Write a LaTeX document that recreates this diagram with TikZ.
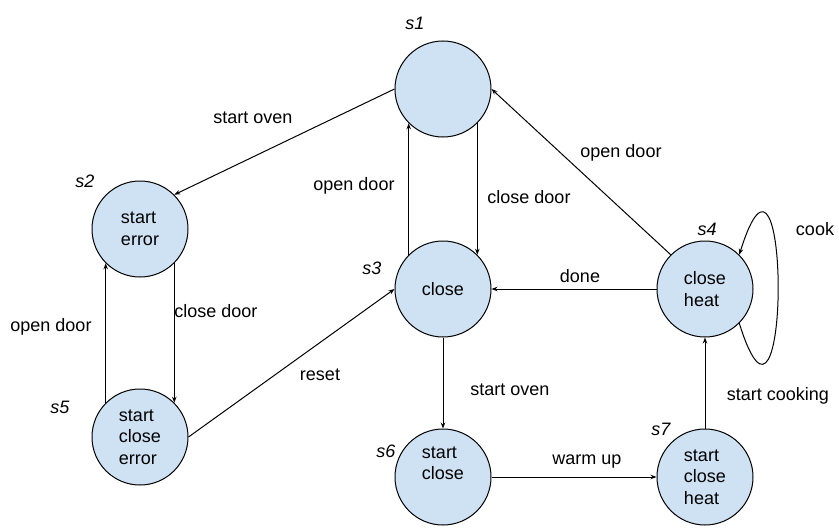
\documentclass[tikz,border=0pt]{standalone}
\usepackage{fontspec}
\setmainfont{Liberation Sans}
\usetikzlibrary{arrows.meta}
\definecolor{stfill}{HTML}{CFE2F3}
\tikzset{
  state/.style={circle,draw=black,line width=1pt,fill=stfill,minimum size=96pt,inner sep=0pt,
    align=left,font=\fontsize{18}{21.5}\selectfont},
  lbl/.style={anchor=base,inner sep=0pt,font=\fontsize{18}{21.5}\selectfont},
  sname/.style={anchor=base,inner sep=0pt,font=\fontsize{18}{21.5}\selectfont\itshape},
  conn/.style={line width=1pt,-{Stealth[length=6pt,width=4.5pt]}}
}
\begin{document}
\begin{tikzpicture}[x=1pt,y=-1pt]
\path[use as bounding box,fill=white] (0,0) rectangle (839,530);
% states
\node[state] (s1) at (443,89) {};
\node[state] (s2) at (140,229) {start\\error};
\node[state] (s3) at (443,289) {close};
\node[state] (s4) at (705,289) {close\\heat};
\node[state] (s5) at (140,437) {start\\close\\error};
\node[state] (s6) at (443,477) {start\\close\\\strut};
\node[state] (s7) at (705,477) {start\\close\\heat};
% state names
\node[sname] (n1) at (415,29) {s1};
\node[sname] (n2) at (85,187) {s2};
\node[sname] (n3) at (372,274) {s3};
\node[sname] (n4) at (707,235) {s4};
\node[sname] (n5) at (60,413) {s5};
\node[sname] (n6) at (386,457) {s6};
\node[sname] (n7) at (661,435) {s7};
% connectors
\draw[conn] (s1.180) -- (s2.45);
\draw[conn] (s3.135) -- (s1.225);
\draw[conn] (s1.315) -- (s3.45);
\draw[conn] (s4.135) -- (s1.0);
\draw[conn] (s4.180) -- (s3.0);
\draw[conn] (s2.315) -- (s5.45);
\draw[conn] (s5.135) -- (s2.225);
\draw[conn] (s5.0) -- (s3.180);
\draw[conn] (s3.270) -- (s6.90);
\draw[conn] (s6.0) -- (s7.180);
\draw[conn] (s7.90) -- (s4.270);
\draw[conn] (s4.-45) .. controls (791,489) and (791,89) .. (s4.45);
% connector labels
\node[lbl] (l1) at (253,123) {start oven};
\node[lbl] (l2) at (354,190) {open door};
\node[lbl] (l3) at (529,203) {close door};
\node[lbl] (l4) at (621,157) {open door};
\node[lbl] (l5) at (580,282) {done};
\node[lbl] (l6) at (216,317) {close door};
\node[lbl] (l7) at (51,331) {open door};
\node[lbl] (l8) at (320,380) {reset};
\node[lbl] (l9) at (510,395) {start oven};
\node[lbl] (l10) at (587,464) {warm up};
\node[lbl] (l11) at (778,400) {start cooking};
\node[lbl] (l12) at (815,235) {cook};
\end{tikzpicture}
\end{document}
